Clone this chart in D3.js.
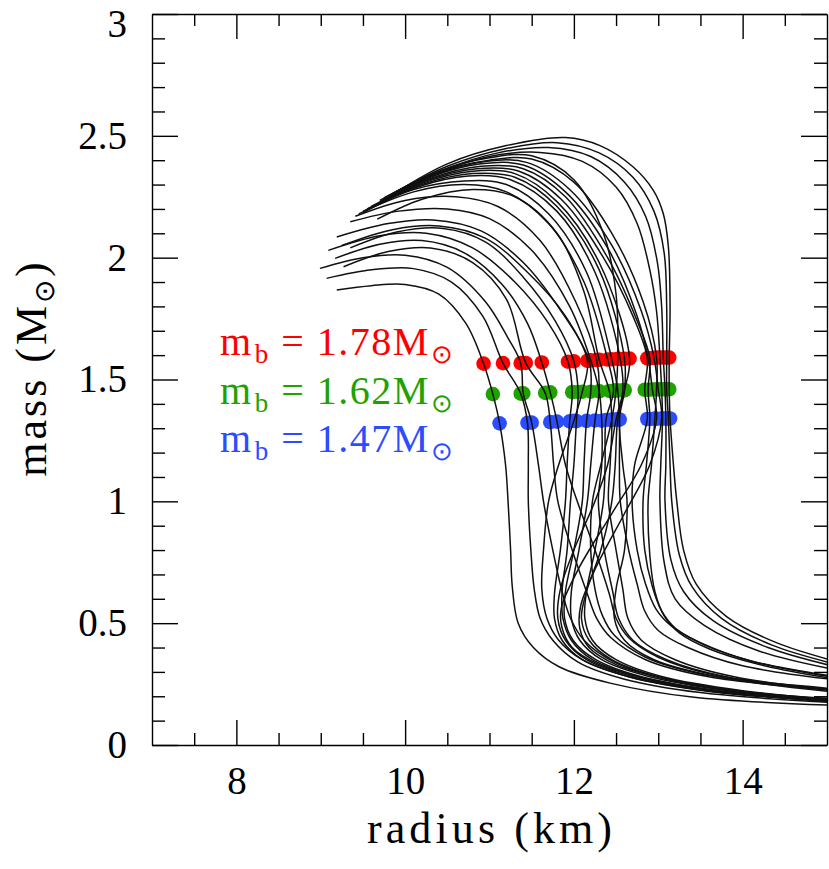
<!DOCTYPE html>
<html>
<head>
<meta charset="utf-8">
<script src="https://cdn.jsdelivr.net/npm/d3@7"></script>
<style>
  html, body { margin: 0; padding: 0; background: #fff; }
  svg { display: block; }
  .axis text { font-family: "Liberation Serif", serif; font-size: 39px; fill: #000; }
  .axis line, .axis path { stroke: #000; stroke-width: 1.4; }
</style>
</head>
<body>
<div id="chart"></div>
<script>
// mass-radius curves, each = upper branch + 3 dots + lower branch (R in km, M in Msun)
const xMajor = [8, 10, 12, 14];
const xMinor = [7.5, 8.5, 9, 9.5, 10.5, 11, 11.5, 12.5, 13, 13.5, 14.5];
const yMajor = [0, 0.5, 1, 1.5, 2, 2.5, 3];
const yMinor = [0.1,0.2,0.3,0.4,0.6,0.7,0.8,0.9,1.1,1.2,1.3,1.4,1.6,1.7,1.8,1.9,2.1,2.2,2.3,2.4,2.6,2.7,2.8,2.9];
const xLabels = ["8", "10", "12", "14"];
const yLabels = ["0", "0.5", "1", "1.5", "2", "2.5", "3"];

const upperParts = [
  [[9.19,1.867],[9.6,1.885],[10.0,1.89],[10.4,1.85],[10.72,1.73]],
  [[9.07,1.915],[9.6,1.95],[10.1,1.955],[10.55,1.90],[10.92,1.76]],
  [[8.99,1.956],[9.5,2.0],[10.0,2.01],[10.5,1.96],[10.95,1.82],[11.22,1.67]],
  [[9.27,1.963],[9.8,2.025],[10.3,2.04],[10.8,1.98],[11.2,1.83]],
  [[9.17,1.997],[9.7,2.055],[10.2,2.07],[10.7,2.02],[11.15,1.89],[11.45,1.73]],
  [[9.09,2.03],[9.7,2.09],[10.25,2.10],[10.8,2.04],[11.3,1.90],[11.7,1.73]],
  [[9.35,2.04],[9.9,2.105],[10.45,2.12],[10.95,2.065],[11.4,1.92],[11.78,1.74]],
  [[9.25,2.05],[9.85,2.115],[10.4,2.13],[10.95,2.08],[11.45,1.94],[11.9,1.76]],
  [[9.19,2.085],[9.8,2.14],[10.33,2.155],[10.9,2.11],[11.4,1.98],[11.85,1.78]],
  [[9.35,2.147],[9.9,2.19],[10.5,2.20],[11.0,2.16],[11.5,2.03],[11.95,1.80]],
  [[9.41,2.17],[10.0,2.235],[10.6,2.25],[11.1,2.21],[11.6,2.07],[12.02,1.82]],
  [[9.67,2.158],[10.2,2.24],[10.8,2.28],[11.3,2.25],[11.8,2.10],[12.12,1.86]],
  [[9.45,2.18],[10.1,2.27],[10.7,2.30],[11.2,2.27],[11.7,2.14],[12.12,1.90]],
  [[9.5,2.19],[10.1,2.28],[10.7,2.315],[11.2,2.30],[11.7,2.18],[12.15,1.94]],
  [[9.5,2.185],[10.15,2.29],[10.75,2.335],[11.25,2.32],[11.8,2.19],[12.25,1.94]],
  [[9.55,2.20],[10.2,2.30],[10.8,2.345],[11.3,2.33],[11.8,2.21],[12.3,1.95]],
  [[9.75,2.245],[10.4,2.355],[11.0,2.41],[11.5,2.418],[12.0,2.32],[12.35,2.1],[12.5,1.85]],
  [[9.55,2.195],[10.2,2.305],[10.8,2.355],[11.3,2.345],[11.8,2.23],[12.3,1.98]],
  [[9.6,2.205],[10.25,2.315],[10.85,2.365],[11.35,2.355],[11.85,2.24],[12.35,2.0],[12.7,1.76]],
  [[9.6,2.21],[10.3,2.325],[10.9,2.375],[11.4,2.365],[11.9,2.25],[12.4,2.0],[12.75,1.74]],
  [[9.65,2.215],[10.3,2.33],[10.9,2.385],[11.4,2.38],[11.9,2.27],[12.4,2.04],[12.75,1.76]],
  [[9.7,2.23],[10.35,2.34],[10.95,2.395],[11.45,2.39],[11.95,2.28],[12.45,2.05],[12.8,1.78]],
  [[9.7,2.235],[10.35,2.345],[11.0,2.40],[11.5,2.405],[12.0,2.31],[12.45,2.10],[12.82,1.82]],
  [[9.75,2.24],[10.4,2.35],[11.0,2.415],[11.6,2.432],[12.1,2.395],[12.5,2.29],[12.75,2.14],[12.9,1.95],[12.98,1.78]],
  [[9.8,2.25],[10.45,2.36],[11.1,2.43],[11.7,2.452],[12.2,2.415],[12.6,2.31],[12.85,2.17],[12.99,1.98],[13.04,1.80]],
  [[9.85,2.262],[10.5,2.375],[11.2,2.448],[11.8,2.472],[12.3,2.43],[12.7,2.33],[12.95,2.19],[13.07,2.02],[13.1,1.80]],
  [[9.9,2.27],[10.5,2.385],[11.2,2.46],[11.9,2.493],[12.31,2.46],[12.7,2.373],[12.94,2.277],[13.06,2.18],[13.12,2.045],[13.14,1.80]]
];

const redR   = [10.93,11.16,11.37,11.43,11.62,11.93,12.00,12.16,12.18,12.20,12.27,12.30,12.40,12.45,12.55,12.60,12.52,12.66,12.87,12.90,12.88,12.95,12.98,13.02,13.06,13.10,13.13];
const redM   = [1.565,1.567,1.567,1.568,1.570,1.573,1.575,1.577,1.578,1.579,1.580,1.581,1.582,1.583,1.584,1.585,1.585,1.586,1.587,1.587,1.588,1.589,1.590,1.590,1.590,1.590,1.590];
const greenR = [11.04,11.37,11.40,11.66,11.72,11.98,12.05,12.10,12.20,12.30,12.30,12.42,12.47,12.52,12.58,12.60,12.50,12.60,12.84,12.88,12.93,13.00,12.98,13.04,13.08,13.10,13.13];
const greenM = [1.440,1.442,1.443,1.445,1.447,1.448,1.449,1.450,1.450,1.451,1.452,1.453,1.454,1.455,1.456,1.456,1.456,1.457,1.458,1.458,1.459,1.460,1.460,1.460,1.460,1.460,1.460];
const blueR  = [11.12,11.45,11.50,11.72,11.80,11.95,12.03,12.00,12.15,12.33,12.25,12.45,12.38,12.54,12.50,12.54,12.45,12.52,12.87,12.90,12.98,13.04,12.96,13.05,13.09,13.12,13.14];
const blueM  = [1.320,1.322,1.323,1.325,1.327,1.328,1.329,1.330,1.330,1.331,1.332,1.333,1.334,1.335,1.336,1.336,1.336,1.337,1.338,1.338,1.339,1.340,1.340,1.340,1.340,1.340,1.340];

const lowerParts = [
  [[11.19,1.15],[11.22,1.0],[11.25,0.80],[11.27,0.65],[11.34,0.50],[11.52,0.40],[11.83,0.32],[12.43,0.254],[13.4,0.197],[15.3,0.16]],
  [[11.46,1.15],[11.46,1.0],[11.49,0.80],[11.53,0.64],[11.6,0.52],[11.75,0.43],[12.05,0.34],[12.6,0.27],[13.5,0.215],[15.3,0.17]],
  [[11.58,1.15],[11.64,1.0],[11.75,0.80],[11.86,0.63],[11.96,0.52],[12.12,0.43],[12.48,0.34],[13.1,0.27],[14.0,0.22],[15.3,0.185]],
  [[11.76,1.15],[11.81,1.0],[11.98,0.80],[12.16,0.62],[12.27,0.52],[12.44,0.44],[12.85,0.35],[13.6,0.28],[15.3,0.22]],
  [[11.9,1.15],[12.04,1.0],[12.25,0.80],[12.42,0.62],[12.5,0.52],[12.65,0.44],[13.0,0.36],[13.7,0.285],[15.3,0.225]],
  [[11.92,1.15],[11.90,1.0],[11.84,0.80],[11.77,0.62],[11.77,0.52],[11.86,0.43],[12.1,0.35],[12.65,0.28],[13.6,0.22],[15.3,0.175]],
  [[12.0,1.15],[11.96,1.0],[11.92,0.80],[11.86,0.63],[11.87,0.52],[11.97,0.43],[12.22,0.35],[12.76,0.28],[13.7,0.22],[15.3,0.176]],
  [[11.82,1.15],[11.70,1.0],[11.64,0.80],[11.62,0.64],[11.68,0.52],[11.82,0.43],[12.1,0.35],[12.65,0.28],[13.6,0.222],[15.3,0.178]],
  [[12.12,1.15],[12.10,1.0],[12.0,0.80],[11.9,0.63],[11.89,0.52],[11.99,0.43],[12.26,0.35],[12.8,0.28],[13.75,0.222],[15.3,0.178]],
  [[12.33,1.15],[12.29,1.0],[12.36,0.80],[12.46,0.63],[12.53,0.52],[12.7,0.43],[13.1,0.35],[13.8,0.28],[15.3,0.215]],
  [[12.2,1.15],[12.16,1.0],[12.06,0.80],[11.97,0.63],[11.97,0.52],[12.07,0.43],[12.33,0.35],[12.9,0.28],[13.85,0.222],[15.3,0.178]],
  [[12.43,1.15],[12.41,1.0],[12.5,0.80],[12.58,0.64],[12.64,0.52],[12.8,0.43],[13.2,0.35],[13.9,0.28],[15.3,0.218]],
  [[12.37,1.15],[12.35,1.0],[12.25,0.80],[12.15,0.63],[12.13,0.52],[12.22,0.43],[12.5,0.35],[13.05,0.28],[14.0,0.223],[15.3,0.18]],
  [[12.54,1.15],[12.55,1.0],[12.65,0.80],[12.75,0.66],[12.84,0.55],[13.0,0.47],[13.35,0.40],[14.0,0.325],[15.3,0.26]],
  [[12.4,1.15],[12.25,1.0],[12.0,0.80],[11.84,0.64],[11.81,0.52],[11.9,0.43],[12.15,0.35],[12.7,0.28],[13.65,0.22],[15.3,0.174]],
  [[12.58,1.15],[12.63,1.0],[12.6,0.80],[12.5,0.64],[12.48,0.52],[12.6,0.43],[12.95,0.35],[13.7,0.28],[15.3,0.21]],
  [[12.32,1.15],[12.22,1.0],[12.2,0.80],[12.25,0.64],[12.34,0.53],[12.48,0.45],[12.85,0.36],[13.6,0.285],[15.3,0.22]],
  [[12.49,1.15],[12.45,1.0],[12.32,0.80],[12.15,0.63],[12.09,0.52],[12.18,0.43],[12.45,0.35],[13.0,0.28],[13.95,0.222],[15.3,0.178]],
  [[12.72,1.15],[12.69,1.0],[12.75,0.80],[12.85,0.66],[12.97,0.56],[13.15,0.49],[13.5,0.42],[14.1,0.345],[15.3,0.27]],
  [[12.86,1.15],[12.82,1.0],[12.84,0.80],[12.93,0.65],[13.04,0.55],[13.2,0.48],[13.55,0.41],[14.15,0.34],[15.3,0.265]],
  [[12.8,1.15],[12.45,0.95],[12.05,0.72],[11.85,0.56],[11.86,0.48],[11.98,0.40],[12.3,0.33],[12.9,0.27],[13.85,0.215],[15.3,0.172]],
  [[12.9,1.15],[12.6,0.95],[12.25,0.72],[12.08,0.57],[12.07,0.48],[12.18,0.40],[12.5,0.33],[13.1,0.27],[14.0,0.22],[15.3,0.177]],
  [[12.92,1.15],[12.88,1.0],[12.9,0.78],[12.96,0.63],[13.07,0.53],[13.25,0.46],[13.6,0.395],[14.2,0.33],[15.3,0.258]],
  [[13.03,1.15],[13.02,1.0],[13.07,0.75],[13.2,0.6],[13.55,0.49],[14.2,0.385],[15.3,0.295]],
  [[13.09,1.15],[13.08,1.0],[13.15,0.76],[13.3,0.63],[13.65,0.51],[14.3,0.40],[15.3,0.305]],
  [[13.14,1.15],[13.16,1.0],[13.25,0.78],[13.4,0.65],[13.75,0.52],[14.35,0.41],[15.3,0.315]],
  [[13.18,1.15],[13.22,1.0],[13.3,0.80],[13.45,0.66],[13.81,0.527],[14.4,0.42],[15.3,0.325]]
];

const legendLabels = ["1.78", "1.62", "1.47"];
const dotColors = ["#ff0000", "#1fa200", "#2b4cff"];

/* build */
const W = 829, H = 869;
const margin = { top: 14, right: 2, bottom: 124, left: 152 };

const x = d3.scaleLinear().domain([7, 15]).range([margin.left, W - margin.right]);
const y = d3.scaleLinear().domain([0, 3]).range([H - margin.bottom, margin.top]);

const svg = d3.select("#chart").append("svg")
  .attr("width", W).attr("height", H);

svg.append("defs").append("clipPath").attr("id", "plot")
  .append("rect")
  .attr("x", x(7)).attr("y", y(3))
  .attr("width", x(15) - x(7)).attr("height", y(0) - y(3));

const curves = upperParts.map((up, i) =>
  up.concat([[redR[i], redM[i]], [greenR[i], greenM[i]], [blueR[i], blueM[i]]], lowerParts[i]));

const line = d3.line()
  .x(d => x(d[0])).y(d => y(d[1]))
  .curve(d3.curveCatmullRom.alpha(0.5));

const gPlot = svg.append("g").attr("clip-path", "url(#plot)");

// dots
const dotSets = [[redR, redM], [greenR, greenM], [blueR, blueM]];
dotSets.forEach(([rs, ms], k) => {
  gPlot.append("g").selectAll("circle")
    .data(rs.map((r, i) => [r, ms[i]])).join("circle")
      .attr("cx", d => x(d[0]))
      .attr("cy", d => y(d[1]))
      .attr("r", 7.3)
      .attr("fill", dotColors[k]);
});

// curves
gPlot.append("g").selectAll("path")
  .data(curves).join("path")
    .attr("d", line)
    .attr("fill", "none")
    .attr("stroke", "#111")
    .attr("stroke-width", 1.5);

// axes (ticks pointing inward, frame on all sides)
const yb = y(0), xl = x(7), xr = x(15), yt = y(3);

svg.append("g").attr("class", "axis")
  .attr("transform", `translate(0,${yb})`)
  .call(d3.axisBottom(x).tickValues(xMajor).tickFormat((d, i) => xLabels[i])
    .tickSize(-25).tickSizeOuter(0).tickPadding(21));
svg.append("g").attr("class", "axis")
  .attr("transform", `translate(0,${yb})`)
  .call(d3.axisBottom(x).tickValues(xMinor).tickFormat("").tickSize(-12).tickSizeOuter(0))
  .call(g => g.select(".domain").remove());

svg.append("g").attr("class", "axis")
  .attr("transform", `translate(0,${yt})`)
  .call(d3.axisTop(x).tickValues(xMajor).tickFormat("").tickSize(-25).tickSizeOuter(0));
svg.append("g").attr("class", "axis")
  .attr("transform", `translate(0,${yt})`)
  .call(d3.axisTop(x).tickValues(xMinor).tickFormat("").tickSize(-12).tickSizeOuter(0))
  .call(g => g.select(".domain").remove());

svg.append("g").attr("class", "axis")
  .attr("transform", `translate(${xl},0)`)
  .call(d3.axisLeft(y).tickValues(yMajor).tickFormat((d, i) => yLabels[i])
    .tickSize(-26).tickSizeOuter(0).tickPadding(25))
  .call(g => g.selectAll(".tick text").filter(d => d === 3).attr("dy", "0.58em"));
svg.append("g").attr("class", "axis")
  .attr("transform", `translate(${xl},0)`)
  .call(d3.axisLeft(y).tickValues(yMinor).tickFormat("").tickSize(-13).tickSizeOuter(0))
  .call(g => g.select(".domain").remove());

svg.append("g").attr("class", "axis")
  .attr("transform", `translate(${xr},0)`)
  .call(d3.axisRight(y).tickValues(yMajor).tickFormat("").tickSize(-26).tickSizeOuter(0));
svg.append("g").attr("class", "axis")
  .attr("transform", `translate(${xr},0)`)
  .call(d3.axisRight(y).tickValues(yMinor).tickFormat("").tickSize(-13).tickSizeOuter(0))
  .call(g => g.select(".domain").remove());

// axis titles
svg.append("text")
  .attr("x", (xl + xr) / 2).attr("y", 843)
  .attr("text-anchor", "middle")
  .attr("font-family", "Liberation Serif, serif")
  .attr("font-size", 44)
  .attr("textLength", 245).attr("lengthAdjust", "spacing")
  .text("radius (km)");

const yt2 = svg.append("text")
  .attr("transform", `translate(46,368) rotate(-90)`)
  .attr("text-anchor", "middle")
  .attr("font-family", "Liberation Serif, serif")
  .attr("font-size", 44)
  .attr("letter-spacing", 3);
yt2.append("tspan").text("mass (M");
yt2.append("tspan").attr("dy", 8).attr("font-size", 28).text("\u2299");
yt2.append("tspan").attr("dy", -8).text(")");

// legend
legendLabels.forEach((lab, i) => {
  const t = svg.append("text")
    .attr("x", 220).attr("y", 355 + i * 48.5)
    .attr("fill", dotColors[i])
    .attr("font-family", "Liberation Serif, serif")
    .attr("font-size", 40)
    .attr("letter-spacing", 1.5);
  t.append("tspan").text("m");
  t.append("tspan").attr("dx", 2).attr("dy", 8).attr("font-size", 27).text("b");
  t.append("tspan").attr("dy", -8).text(" = " + lab + "M");
  t.append("tspan").attr("dx", 1).attr("dy", 8).attr("font-size", 26).text("\u2299");
});
</script>
</body>
</html>
